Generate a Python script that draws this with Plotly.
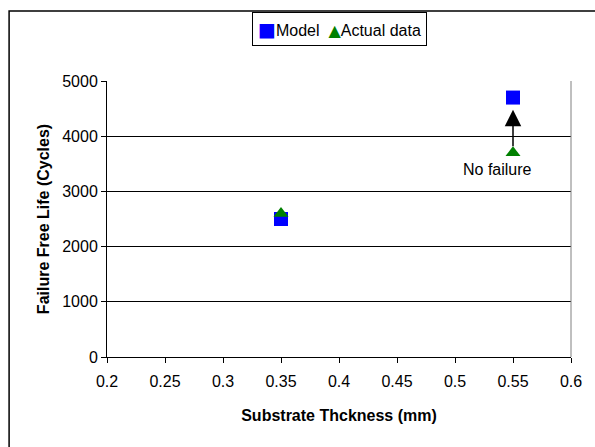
import plotly.graph_objects as go

# Substrate thickness (mm) and failure-free life (cycles)
thickness = [0.35, 0.55]
model_life = [2500, 4700]
actual_life = [2600, 3700]

# Arrow for the run that had not failed yet
arrow_x = 0.55
arrow_tail = 3790
arrow_tip = 4480
note_text = "No failure"
note_x = 0.537
note_y = 3390

x_ticks = [0.2, 0.25, 0.3, 0.35, 0.4, 0.45, 0.5, 0.55, 0.6]
y_ticks = [0, 1000, 2000, 3000, 4000, 5000]

series_names = ["Model", "Actual data"]
series_colors = ["#0000FF", "#008000"]

font_family = "Liberation Sans, Arial, sans-serif"
fs = 16

fig = go.Figure()
fig.add_trace(go.Scatter(
    x=thickness, y=model_life, mode="markers", name=series_names[0],
    marker=dict(symbol="square", size=14, color=series_colors[0], line=dict(width=0)),
    showlegend=False,
))
fig.add_trace(go.Scatter(
    x=thickness, y=actual_life, mode="markers", name=series_names[1],
    marker=dict(symbol="triangle-up", size=13, color=series_colors[1], line=dict(width=0)),
    showlegend=False,
))

fig.add_annotation(
    x=arrow_x, y=arrow_tip, ax=arrow_x, ay=arrow_tail,
    xref="x", yref="y", axref="x", ayref="y",
    text="", showarrow=True, arrowhead=2, arrowsize=2.2,
    arrowwidth=1.5, arrowcolor="#000000",
)
fig.add_annotation(
    x=note_x, y=note_y, xref="x", yref="y", text=note_text,
    showarrow=False, font=dict(family=font_family, size=fs, color="#000000"),
)

# Boxed legend above the plot
legend_text = (
    f"<span style='color:{series_colors[0]};font-family:DejaVu Sans;font-size:19px'>■</span>"
    f"{series_names[0]}\u00a0\u00a0"
    f"<span style='color:{series_colors[1]};font-family:DejaVu Sans;font-size:16px'>▲</span>"
    f"{series_names[1]}"
)
fig.add_annotation(
    x=0.5, y=1.25, xref="paper", yref="paper", xanchor="center", yanchor="top",
    text=legend_text, showarrow=False,
    font=dict(family=font_family, size=fs, color="#000000"),
    bordercolor="#000000", borderwidth=1, borderpad=5, bgcolor="#FFFFFF",
)

# Outer chart frame
fig.add_shape(
    type="rect", xref="paper", yref="paper",
    x0=-0.211, y0=-0.6, x1=1.3, y1=1.2536,
    line=dict(color="#000000", width=1.5), fillcolor="rgba(0,0,0,0)",
    layer="below",
)

fig.update_layout(
    width=595, height=447,
    margin=dict(l=107, r=24, t=81, b=90),
    paper_bgcolor="#FFFFFF", plot_bgcolor="#FFFFFF",
    font=dict(family=font_family, size=fs, color="#000000"),
    showlegend=False,
    xaxis=dict(
        range=[0.2, 0.6], tickvals=x_ticks,
        ticktext=[f"{v:g}" for v in x_ticks],
        showgrid=False, zeroline=False,
        showline=True, linecolor="#000000", linewidth=1,
        ticks="outside", ticklen=5, tickcolor="#000000",
        ticklabelstandoff=5,
        title=dict(text="<b>Substrate Thckness (mm)</b>",
                   font=dict(family=font_family, size=fs), standoff=20),
        tickfont=dict(family=font_family, size=fs),
    ),
    yaxis=dict(
        range=[0, 5000], tickvals=y_ticks,
        showgrid=True, gridcolor="#000000", gridwidth=1,
        zeroline=False,
        showline=True, linecolor="#000000", linewidth=1,
        ticks="outside", ticklen=5, tickcolor="#000000",
        title=dict(text="<b>Failure Free Life (Cycles)</b>",
                   font=dict(family=font_family, size=fs), standoff=8),
        tickfont=dict(family=font_family, size=fs),
    ),
)

# Right edge of the plot area
fig.add_shape(
    type="line", xref="paper", yref="paper", x0=1, x1=1, y0=0, y1=1,
    line=dict(color="#808080", width=1),
)

fig.write_html("out.html")
